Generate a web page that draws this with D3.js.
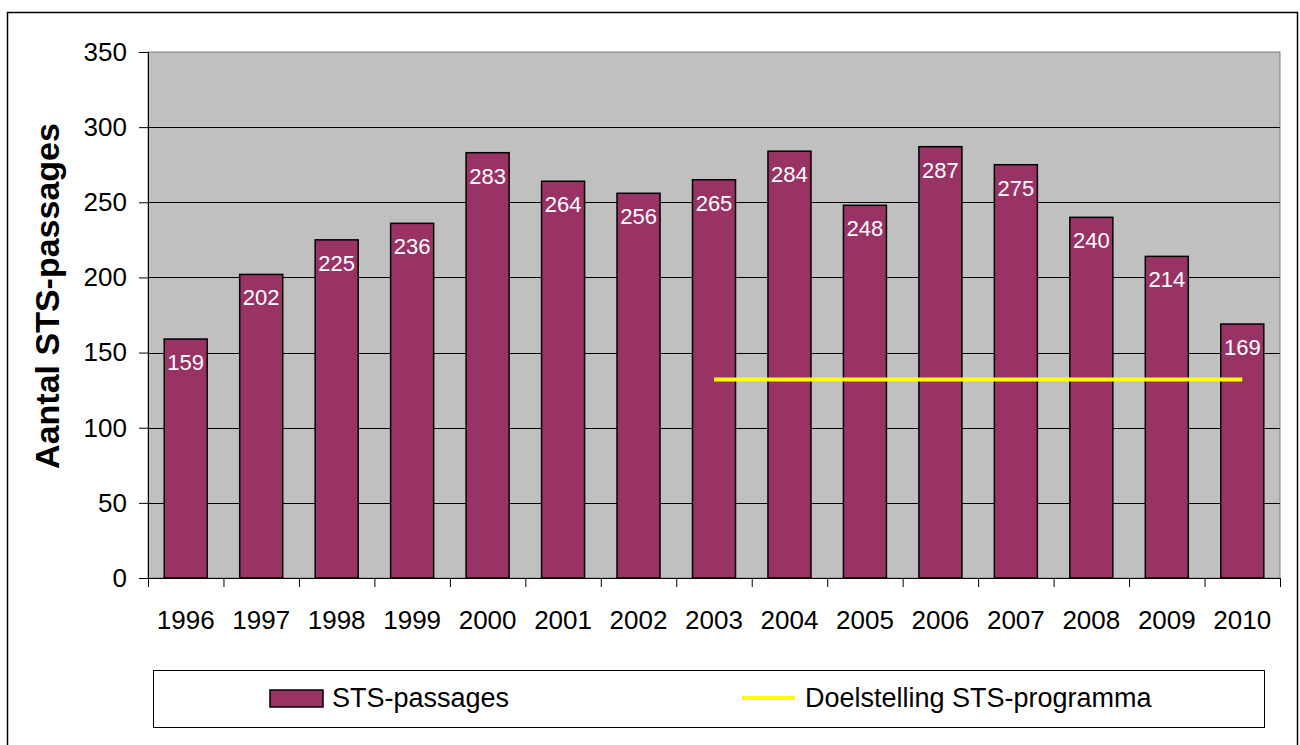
<!DOCTYPE html>
<html>
<head>
<meta charset="utf-8">
<script src="https://cdn.jsdelivr.net/npm/d3@7"></script>
<style>
  body { margin: 0; background: #fff; }
  text { font-family: "Liberation Sans", Arial, sans-serif; }
</style>
</head>
<body>
<div id="chart"></div>
<script>
const years = ['1996', '1997', '1998', '1999', '2000', '2001', '2002', '2003', '2004', '2005', '2006', '2007', '2008', '2009', '2010'];
const passages = [159, 202, 225, 236, 283, 264, 256, 265, 284, 248, 287, 275, 240, 214, 169];
const targetYears = ['2003', '2010'];
const targetValue = 132;
const yTicks = [0, 50, 100, 150, 200, 250, 300, 350];

const svgWidth = 1300, svgHeight = 745;
const margin = { top: 52, right: 20, bottom: 167, left: 148 };
const width = 1280 - margin.left;
const height = 578 - margin.top;

const svg = d3.select('#chart').append('svg')
  .attr('width', svgWidth)
  .attr('height', svgHeight);

// outer frame
svg.append('rect')
  .attr('x', 7.5).attr('y', 12.5)
  .attr('width', 1290).attr('height', 740)
  .attr('fill', 'none')
  .attr('stroke', '#000')
  .attr('stroke-width', 1.5);

const g = svg.append('g')
  .attr('transform', `translate(${margin.left},${margin.top})`);

const x = d3.scaleBand().domain(years).range([0, width]).paddingInner(0.43).paddingOuter(0.215);
const xb = d3.scaleBand().domain(years).range([0, width]);
const y = d3.scaleLinear().domain([0, 350]).range([height, 0]);

g.append('rect')
  .attr('width', width).attr('height', height)
  .attr('fill', '#c0c0c0')
  .attr('stroke', '#808080');

// gridlines
g.selectAll('.grid')
  .data(yTicks.filter(d => d > 0 && d < 350))
  .join('line')
  .attr('x1', 0).attr('x2', width)
  .attr('y1', d => Math.round(y(d)) + 0.5)
  .attr('y2', d => Math.round(y(d)) + 0.5)
  .attr('stroke', '#000')
  .attr('stroke-width', 1);

// y axis
const yAxis = g.append('g')
  .call(d3.axisLeft(y).tickValues(yTicks).tickSize(9).tickPadding(12));
yAxis.select('.domain').attr('stroke', '#000');
yAxis.selectAll('text').attr('font-size', 26).attr('fill', '#000');

// x axis
const xAxis = g.append('g')
  .attr('transform', `translate(0,${height})`)
  .call(d3.axisBottom(xb).tickSize(0).tickPadding(33));
xAxis.select('.domain').remove();
xAxis.selectAll('text').attr('font-size', 26).attr('fill', '#000');
g.append('line')
  .attr('x1', -9).attr('x2', width)
  .attr('y1', height + 0.5).attr('y2', height + 0.5)
  .attr('stroke', '#000');
g.selectAll('.xtick')
  .data(years.concat(['end']))
  .join('line')
  .attr('x1', (d, i) => i * xb.step() + 0.5)
  .attr('x2', (d, i) => i * xb.step() + 0.5)
  .attr('y1', height).attr('y2', height + 9)
  .attr('stroke', '#000');

// bars
g.selectAll('.bar')
  .data(passages)
  .join('rect')
  .attr('x', (d, i) => x(years[i]))
  .attr('y', d => y(d))
  .attr('width', x.bandwidth())
  .attr('height', d => height - y(d))
  .attr('fill', '#993366')
  .attr('stroke', '#000')
  .attr('stroke-width', 1.5);

g.selectAll('.lbl')
  .data(passages)
  .join('text')
  .attr('x', (d, i) => x(years[i]) + x.bandwidth() / 2)
  .attr('y', d => y(d) + 31)
  .attr('text-anchor', 'middle')
  .attr('font-size', 22)
  .attr('fill', '#fff')
  .text(d => d);

// target line
g.append('line')
  .attr('x1', x(targetYears[0]) + x.bandwidth() / 2)
  .attr('x2', x(targetYears[1]) + x.bandwidth() / 2)
  .attr('y1', y(targetValue)).attr('y2', y(targetValue))
  .attr('stroke', '#ffff00')
  .attr('stroke-width', 4);

// y title
svg.append('text')
  .attr('transform', 'translate(59,296) rotate(-90)')
  .attr('text-anchor', 'middle')
  .attr('font-size', 34)
  .attr('font-weight', 'bold')
  .text('Aantal STS-passages');

// legend
const lg = svg.append('g');
lg.append('rect')
  .attr('x', 153.5).attr('y', 670.5)
  .attr('width', 1111).attr('height', 57)
  .attr('fill', '#fff')
  .attr('stroke', '#000');
lg.append('rect')
  .attr('x', 270).attr('y', 690)
  .attr('width', 53).attr('height', 17)
  .attr('fill', '#993366')
  .attr('stroke', '#000')
  .attr('stroke-width', 1.5);
lg.append('text')
  .attr('x', 332).attr('y', 707)
  .attr('font-size', 27)
  .text('STS-passages');
lg.append('line')
  .attr('x1', 742).attr('x2', 795)
  .attr('y1', 698).attr('y2', 698)
  .attr('stroke', '#ffff00')
  .attr('stroke-width', 4);
lg.append('text')
  .attr('x', 805).attr('y', 707)
  .attr('font-size', 27)
  .text('Doelstelling STS-programma');
</script>
</body>
</html>
